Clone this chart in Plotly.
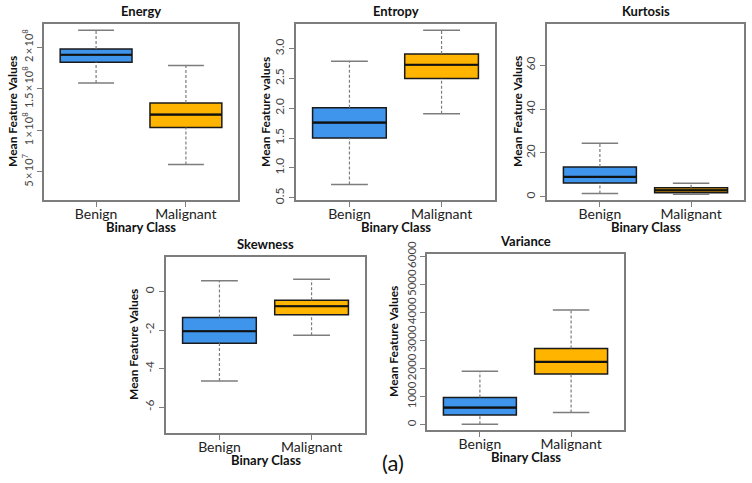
import plotly.graph_objects as go

# Box statistics (Benign, Malignant)
classes = ["Benign", "Malignant"]
features = ["Energy", "Entropy", "Kurtosis", "Skewness", "Variance"]

energy_lower = [1.57e8, 5.9e7]
energy_q1 = [1.82e8, 1.035e8]
energy_median = [1.91e8, 1.19e8]
energy_q3 = [1.98e8, 1.33e8]
energy_upper = [2.205e8, 1.78e8]

entropy_lower = [0.72, 1.91]
entropy_q1 = [1.50, 2.50]
entropy_median = [1.76, 2.73]
entropy_q3 = [2.01, 2.91]
entropy_upper = [2.79, 3.31]

kurtosis_lower = [1.5, 1.1]
kurtosis_q1 = [6.3, 1.8]
kurtosis_median = [9.1, 2.9]
kurtosis_q3 = [13.6, 4.1]
kurtosis_upper = [24.4, 6.1]

skewness_lower = [-4.65, -2.27]
skewness_q1 = [-2.69, -1.20]
skewness_median = [-2.06, -0.76]
skewness_q3 = [-1.35, -0.45]
skewness_upper = [0.57, 0.64]

variance_lower = [14, 430]
variance_q1 = [348, 1806]
variance_median = [609, 2236]
variance_q3 = [968, 2713]
variance_upper = [1900, 4086]

energy_ticks = [5e7, 1e8, 1.5e8, 2e8]
energy_ticktext = ["5\u2009×\u200910<sup>7</sup>", "1\u2009×\u200910<sup>8</sup>",
                   "1.5\u2009×\u200910<sup>8</sup>", "2\u2009×\u200910<sup>8</sup>"]
entropy_ticks = [0.5, 1.0, 1.5, 2.0, 2.5, 3.0]
kurtosis_ticks = [0, 20, 40, 60]
skewness_ticks = [-6, -4, -2, 0]
variance_ticks = [0, 1000, 2000, 3000, 4000, 5000, 6000]

W, H = 752, 483
FONT = "Lato"
BOX_COLORS = ["#3F95EC", "#FFB400"]
FRAME = "#7d7d7d"

# panel pixel boxes: (left, top, right, bottom), y range, ticks, ytitle
panels = [
    dict(name="Energy", px=(44, 24, 238, 200), yr=[1.63e7, 2.28e8],
         stats=(energy_lower, energy_q1, energy_median, energy_q3, energy_upper),
         ticks=energy_ticks, ticktext=energy_ticktext, tsize=11,
         ytitle="Mean Feature Values", ytx=12),
    dict(name="Entropy", px=(296, 24, 495, 200), yr=[0.461, 3.414],
         stats=(entropy_lower, entropy_q1, entropy_median, entropy_q3, entropy_upper),
         ticks=entropy_ticks, ticktext=[f"{t:.1f}" for t in entropy_ticks], tsize=12,
         ytitle="Mean Feature values", ytx=265),
    dict(name="Kurtosis", px=(547, 24, 744, 200), yr=[-1.5, 78.9],
         stats=(kurtosis_lower, kurtosis_q1, kurtosis_median, kurtosis_q3, kurtosis_upper),
         ticks=kurtosis_ticks, ticktext=[str(t) for t in kurtosis_ticks], tsize=12,
         ytitle="Mean Feature Values", ytx=517),
    dict(name="Skewness", px=(166, 257, 365, 433), yr=[-7.35, 1.80],
         stats=(skewness_lower, skewness_q1, skewness_median, skewness_q3, skewness_upper),
         ticks=skewness_ticks, ticktext=[str(t) for t in skewness_ticks], tsize=12,
         ytitle="Mean Feature Values", ytx=133),
    dict(name="Variance", px=(427, 254, 624, 430), yr=[-190, 6082],
         stats=(variance_lower, variance_q1, variance_median, variance_q3, variance_upper),
         ticks=variance_ticks, ticktext=[str(t) for t in variance_ticks], tsize=11.5,
         ytitle="Mean Feature Values", ytx=393),
]

fig = go.Figure()
annotations = []
layout_axes = {}


def label(text, px, py, size, angle=0):
    return dict(text=text, x=px / W, y=1 - py / H, xref="paper", yref="paper",
                xanchor="center", yanchor="middle", showarrow=False,
                textangle=angle, font=dict(family=FONT, size=size, color="#111"))


for i, p in enumerate(panels):
    n = "" if i == 0 else str(i + 1)
    xref, yref = "x" + n, "y" + n
    l, t, r, b = p["px"]
    lower, q1, med, q3, upper = p["stats"]

    for j, cls in enumerate(classes):
        c = j + 1
        # dashed whiskers
        for a, z in ((q3[j], upper[j]), (lower[j], q1[j])):
            fig.add_trace(go.Scatter(
                x=[c, c], y=[a, z], mode="lines", xaxis=xref, yaxis=yref,
                line=dict(color=FRAME, width=1.2, dash="3px,2px"),
                showlegend=False, hoverinfo="skip"))
        # whisker caps
        for v in (upper[j], lower[j]):
            fig.add_trace(go.Scatter(
                x=[c - 0.2, c + 0.2], y=[v, v], mode="lines", xaxis=xref, yaxis=yref,
                line=dict(color=FRAME, width=1.5),
                showlegend=False, hoverinfo="skip"))
        fig.add_trace(go.Box(
            x=[c], q1=[q1[j]], median=[med[j]], q3=[q3[j]],
            lowerfence=[q1[j]], upperfence=[q3[j]], width=0.8,
            fillcolor=BOX_COLORS[j], line=dict(color="#1a1a1a", width=1.5),
            xaxis=xref, yaxis=yref, name=cls, showlegend=False, hoverinfo="skip"))
        # thicker median
        fig.add_trace(go.Scatter(
            x=[c - 0.4, c + 0.4], y=[med[j], med[j]], mode="lines",
            xaxis=xref, yaxis=yref, line=dict(color="#111111", width=2.2),
            showlegend=False, hoverinfo="skip"))

    layout_axes["xaxis" + n] = dict(
        domain=[l / W, r / W], anchor=yref, range=[0.42, 2.58],
        tickvals=[1, 2], ticktext=classes, ticks="outside", ticklen=5,
        ticklabelstandoff=-5,
        tickcolor=FRAME, showline=True, linecolor=FRAME, linewidth=1.5,
        mirror=True, showgrid=False, zeroline=False, fixedrange=True,
        automargin=False,
        tickfont=dict(family=FONT, size=14, color="#222"))
    layout_axes["yaxis" + n] = dict(
        domain=[1 - b / H, 1 - t / H], anchor=xref, range=p["yr"],
        tickvals=p["ticks"], ticktext=p["ticktext"], tickangle=-90,
        ticks="outside", ticklen=5, tickcolor=FRAME, showline=True,
        linecolor=FRAME, linewidth=1.5, mirror=True, showgrid=False,
        zeroline=False, fixedrange=True, automargin=False,
        tickfont=dict(family=FONT, size=p["tsize"], color="#444"))

    cx = (l + r) / 2
    annotations.append(label("<b>%s</b>" % p["name"], cx, t - 13, 13))
    annotations.append(label("<b>Binary Class</b>", cx, b + 27, 13))
    annotations.append(label("<b>%s</b>" % p["ytitle"], p["ytx"], (t + b) / 2, 12, -90))

annotations.append(label("(a)", 393, 462, 22))

fig.update_layout(
    width=W, height=H, margin=dict(l=0, r=0, t=0, b=0, autoexpand=False),
    paper_bgcolor="white", plot_bgcolor="white",
    showlegend=False, annotations=annotations, boxmode="overlay",
    **layout_axes)

fig.write_html("out.html", config={"displayModeBar": False},
               post_script="document.body.style.margin = '0';")
